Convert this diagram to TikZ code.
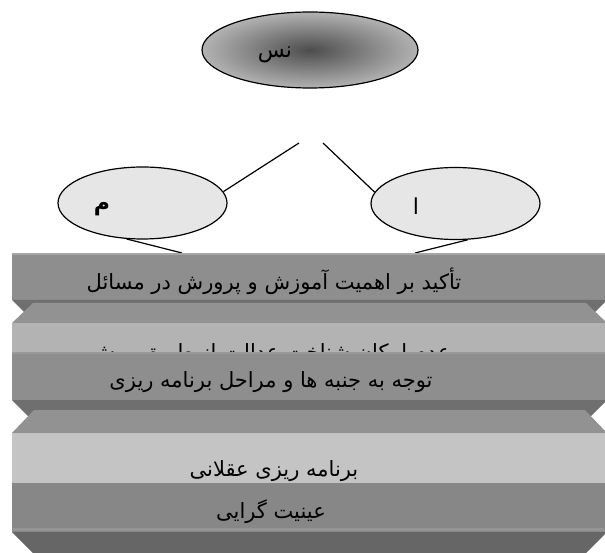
\documentclass[tikz,border=0pt]{standalone}
\usepackage{fontspec}
\usepackage{xcolor}
\usepackage{tikz}
\usetikzlibrary{shapes.geometric}
\TeXXeTstate=1
\newfontfamily\arabicfont[Script=Arabic]{DejaVu Sans}
\definecolor{stone}{HTML}{E6E6E6}
\definecolor{bandface}{HTML}{8E8E8E}
\definecolor{bandlight}{HTML}{B3B3B3}
\definecolor{bandpale}{HTML}{C4C4C4}
\definecolor{bandtop}{HTML}{929292}
\definecolor{bandlow}{HTML}{6F6F6F}

\begin{document}
\begin{tikzpicture}[
        x=1pt, y=-1pt,
        blob/.style={ellipse, draw, line width=1.2pt, fill=stone, minimum width=169pt, minimum height=72pt, inner sep=0pt},
        link/.style={line width=1.2pt},
        caption/.style={font=\arabicfont\fontsize{21}{24}\selectfont, inner sep=0pt, anchor=base},
        tag/.style={font=\arabicfont\fontsize{22}{25}\selectfont, inner sep=0pt}
    ]
    \useasboundingbox (0,0) rectangle (605,553);

    % Top ellipse
    \node[ellipse, draw, line width=1.2pt, inner color=black!70, outer color=black!30,
        minimum width=216pt, minimum height=76pt] (nas) at (310,50) {};
    \node[tag] (nas_text) at (275,55) {\beginR نس\endR};

    % Two lower ellipses
    \node[blob] (mim) at (142.5,203) {};
    \node[tag, font=\arabicfont\bfseries\fontsize{22}{25}\selectfont] (mim_text) at (102,209) {\beginR م\endR};
    \node[blob] (alef) at (455.5,203.5) {};
    \node[tag] (alef_text) at (416,206) {\beginR ا\endR};

    % Connectors
    \coordinate (mim_up) at (299,143);
    \coordinate (alef_up) at (323,143);
    \coordinate (mim_down) at (182,253);
    \coordinate (alef_down) at (415,253);
    \draw[link] (mim.8) -- (mim_up);
    \draw[link] (alef.172) -- (alef_up);
    \draw[link] (mim.246) -- (mim_down);
    \draw[link] (alef.289) -- (alef_down);

    % Band 1
    \fill[bandface] (12,253) rectangle (607,300);
    \fill[black!35] (12,253) rectangle (607,255);
    \fill[bandlow] (12,300) -- (607,300) -- (585,322) -- (34,322) -- cycle;
    \node[caption] (emphasis) at (274,290) {\beginR تأکید بر اهمیت آموزش و پرورش در مسائل\endR};

    % Band 2
    \fill[bandtop] (33,303) -- (586,303) -- (607,323) -- (12,323) -- cycle;
    \fill[bandlight] (12,323) rectangle (607,370);
    \node[caption] (knowing) at (270,359) {\beginR عدم امکان شناخت عدالت از طریق روش\endR};

    % Band 3
    \fill[bandface] (12,352) rectangle (607,400);
    \fill[black!40] (12,352) rectangle (607,354);
    \fill[bandlow] (12,400) -- (607,400) -- (585,422) -- (34,422) -- cycle;
    \node[caption] (aspects) at (271,387) {\beginR توجه به جنبه ها و مراحل برنامه ریزی\endR};

    % Band 4
    \fill[bandtop] (34,410) -- (585,410) -- (607,433) -- (12,433) -- cycle;
    \fill[bandpale] (12,433) rectangle (607,483);
    \node[caption] (rational) at (274,476) {\beginR برنامه ریزی عقلانی\endR};

    % Band 5
    \fill[black!47] (12,483) rectangle (607,532);
    \fill[black!42] (12,528) rectangle (607,531);
    \fill[black!60] (12,532) -- (607,532) -- (585,554) -- (34,554) -- cycle;
    \node[caption] (objective) at (271,518) {\beginR عینیت گرایی\endR};
\end{tikzpicture}
\end{document}
